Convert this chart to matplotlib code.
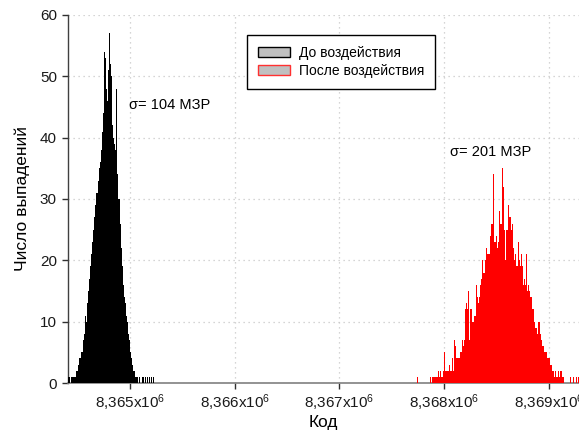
import numpy as np
import matplotlib
matplotlib.use("Agg")
import matplotlib.pyplot as plt
from matplotlib.patches import Patch
from matplotlib.ticker import FixedLocator, FixedFormatter

plt.rcParams['font.family'] = ['Liberation Sans', 'DejaVu Sans']
plt.rcParams['mathtext.fontset'] = 'custom'
plt.rcParams['mathtext.rm'] = 'Liberation Sans'
plt.rcParams['mathtext.it'] = 'Liberation Sans'

# ---- data ----
before_start = 8364410
before_width = 10
before_counts = [1, 1, 0, 1, 1, 1, 1, 2, 2, 3, 4, 4, 5, 5, 7, 8, 11, 10, 13, 15,
                 17, 19, 21, 23, 25, 27, 29, 31, 33, 35, 36, 38, 41, 44, 54, 53, 48, 46, 51, 57,
                 52, 50, 42, 40, 39, 38, 48, 34, 30, 26, 22, 19, 16, 14, 13, 11, 10, 8, 7, 5,
                 4, 3, 2, 2, 1, 1, 1, 0, 1, 0, 1, 1, 0, 1, 0, 1, 0, 1, 0, 1,
                 0, 1]

after_start = 8367740
after_width = 10
after_counts = [1, 0, 0, 0, 0, 0, 0, 0, 0, 0, 0, 0, 1, 0, 1, 1, 1, 1, 1, 1,
                2, 1, 2, 1, 1, 2, 5, 2, 2, 2, 2, 3, 2, 4, 2, 7, 6, 4, 4, 4,
                4, 5, 5, 7, 6, 7, 12, 13, 12, 15, 7, 12, 12, 10, 11, 11, 16, 14, 13, 14,
                16, 17, 20, 18, 18, 20, 22, 21, 21, 21, 24, 26, 26, 34, 23, 24, 22, 23, 28, 26,
                26, 35, 32, 25, 20, 25, 25, 29, 27, 27, 25, 26, 22, 20, 21, 19, 23, 20, 19, 21,
                19, 16, 17, 16, 21, 15, 16, 15, 14, 14, 12, 12, 10, 9, 9, 8, 10, 8, 7, 6,
                6, 5, 5, 5, 4, 4, 4, 3, 3, 2, 2, 1, 2, 1, 1, 2, 1, 2, 1, 1,
                0, 0, 0, 0, 0, 0, 1, 0, 0, 1, 0, 0, 1, 0, 1]

x_ticks = [8365000, 8366000, 8367000, 8368000, 8369000]
x_tick_labels = [r"8,365x10$^{6}$", r"8,366x10$^{6}$", r"8,367x10$^{6}$",
                 r"8,368x10$^{6}$", r"8,369x10$^{6}$"]
y_ticks = [0, 10, 20, 30, 40, 50, 60]
legend_labels = ["До воздействия", "После воздействия"]
annotations = [("σ= 104 МЗР", 8365382, 45.4), ("σ= 201 МЗР", 8368439, 37.6)]

# ---- plot ----
fig = plt.figure(figsize=(5.79, 4.34), dpi=100)
ax = fig.add_axes([0.1174, 0.1175, 0.8826, 0.848])

b_edges = before_start + before_width * np.arange(len(before_counts) + 1)
a_edges = after_start + after_width * np.arange(len(after_counts) + 1)
ax.stairs(before_counts, b_edges, fill=True, color='black', linewidth=0, zorder=3)
ax.stairs(after_counts, a_edges, fill=True, color='#ff0000', linewidth=0, zorder=3)

ax.set_xlim(8364408, 8369287)
ax.set_ylim(0, 60)

ax.xaxis.set_major_locator(FixedLocator(x_ticks))
ax.xaxis.set_major_formatter(FixedFormatter(x_tick_labels))
ax.set_yticks(y_ticks)

ax.grid(True, linestyle=(0, (1, 3)), color='#c8c8c8', linewidth=0.9, zorder=0)
ax.set_axisbelow(True)

for s in ['top', 'right']:
    ax.spines[s].set_visible(False)
ax.spines['left'].set_color('#404040')
ax.spines['bottom'].set_color('#808080')
ax.spines['bottom'].set_linewidth(1.2)
ax.spines['left'].set_linewidth(1.0)

ax.tick_params(axis='both', direction='out', length=4, width=1, color='#303030',
               labelsize=11, labelcolor='#1a1a1a')
ax.tick_params(axis='x', pad=3)
ax.tick_params(axis='y', pad=4)

ax.set_xlabel("Код", fontsize=12.5, labelpad=1)
ax.set_ylabel("Число выпадений", fontsize=12.5, labelpad=7)

for txt, xv, yv in annotations:
    ax.text(xv, yv, txt, fontsize=10.5, ha='center', va='center', zorder=5)

handles = [Patch(facecolor='#c0c0c0', edgecolor='black', linewidth=1),
           Patch(facecolor='#c0c0c0', edgecolor='#ff3030', linewidth=1)]
leg = ax.legend(handles, legend_labels, loc='upper left',
                bbox_to_anchor=(0.351, 0.946), fontsize=10, frameon=True,
                fancybox=False, edgecolor='black', framealpha=1,
                handlelength=2.3, handleheight=0.75, handletextpad=0.6,
                labelspacing=0.3, borderpad=0.8, borderaxespad=0)
leg.get_frame().set_linewidth(1.0)

fig.savefig("out.png", dpi=100)
